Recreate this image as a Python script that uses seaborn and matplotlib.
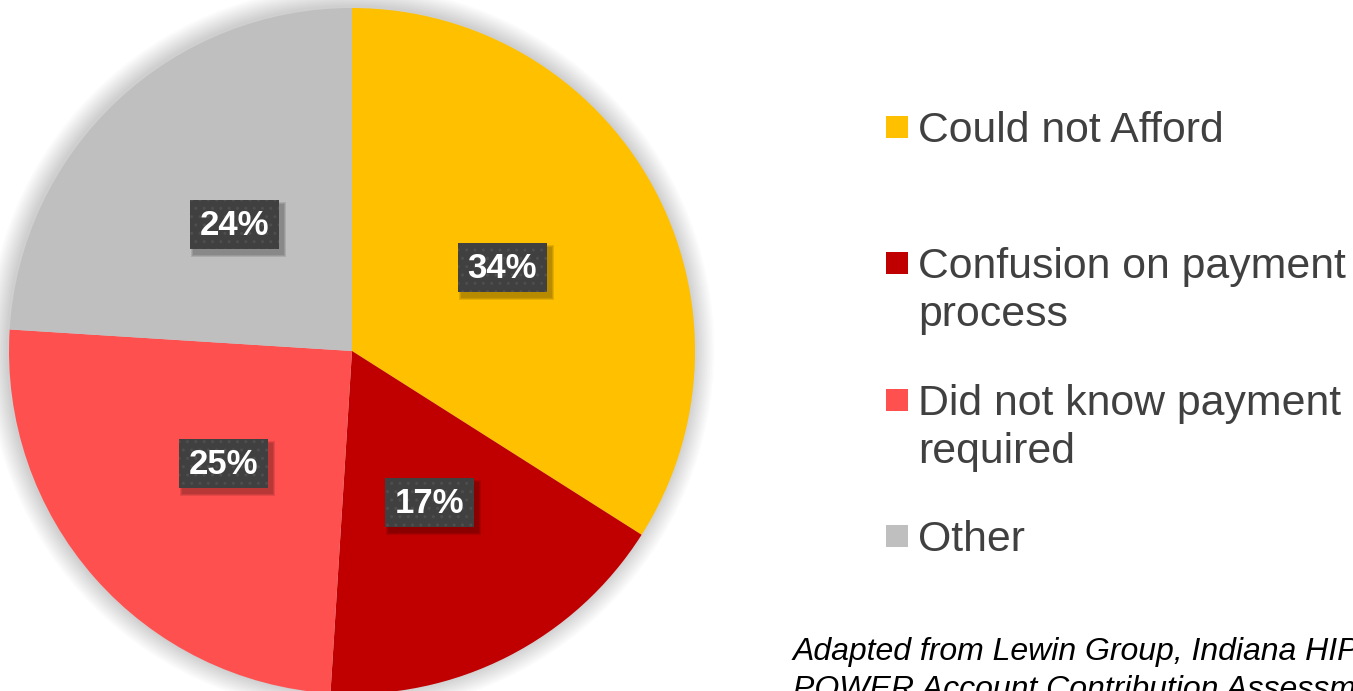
import matplotlib
matplotlib.use("Agg")
import matplotlib.pyplot as plt
from matplotlib.patches import Rectangle, Circle
import seaborn as sns

# ---- data ----
categories = ["Could not Afford", "Confusion on payment\nprocess",
              "Did not know payment\nrequired", "Other"]
values = [34, 17, 25, 24]
colors = ["#FFC000", "#C00000", "#FF5050", "#BFBFBF"]
pct_labels = ["34%", "17%", "25%", "24%"]
caption = "Adapted from Lewin Group, Indiana HIP 2.0:\nPOWER Account Contribution Assessment"

sns.set_theme(style="white")
plt.rcParams["font.family"] = ["Liberation Sans", "DejaVu Sans"]

W, H = 1353, 691
fig = plt.figure(figsize=(W / 100, H / 100), dpi=100)
fig.patch.set_facecolor("white")

# pie axes
cx, cy, R = 352, 351, 343
ax = fig.add_axes([(cx - R) / W, (H - cy - R) / H, 2 * R / W, 2 * R / H])

wedges, texts, autotexts = ax.pie(
    values, colors=colors, startangle=90, counterclock=False, radius=1,
    autopct="%1.0f%%", pctdistance=0.5,
    wedgeprops=dict(linewidth=0),
    textprops=dict(color="white", fontsize=25, fontweight="bold"),
)
ax.set_xlim(-1, 1)
ax.set_ylim(-1, 1)
ax.set_aspect("equal")
ax.axis("off")

# soft shadow glow behind the pie
for i in range(12):
    ax.add_patch(Circle((-0.004, 0.004), 1 + 0.005 * (i + 1), color="#000000",
                        alpha=0.017, lw=0, zorder=0, clip_on=False))

for w in wedges:
    w.set_zorder(2)
    w.set_clip_on(False)

px = 1 / R
bw, bh = 89 * px, 49 * px   # label box size in data units
for t, lab in zip(autotexts, pct_labels):
    t.set_text(lab)
    t.set_zorder(7)
    x, y = t.get_position()
    # soft drop shadow
    for k, a in enumerate([0.10, 0.10, 0.10]):
        g = (k + 1) * px
        ax.add_patch(Rectangle((x - bw / 2 + 4 * px - g, y - bh / 2 - 4 * px - g),
                               bw + 2 * g, bh + 2 * g, facecolor="#000000",
                               lw=0, alpha=a, zorder=4))
    ax.add_patch(Rectangle((x - bw / 2, y - bh / 2 + 0.004), bw, bh,
                           facecolor="#404040", edgecolor="#4e4e4e", lw=0,
                           hatch="..", zorder=5))

# overlay axes in pixel coordinates for legend & caption
ov = fig.add_axes([0, 0, 1, 1])
ov.set_xlim(0, W)
ov.set_ylim(H, 0)
ov.axis("off")
ov.patch.set_alpha(0)

leg_y = [127, 263, 400, 536]
sq = 22
line_px = 48
for y, c, lab in zip(leg_y, colors, categories):
    ov.add_patch(Rectangle((886, y - sq / 2), sq, sq, facecolor=c, edgecolor="none"))
    extra = lab.count("\n")
    ov.text(918, y + 15 + extra * line_px, lab, fontsize=30.8, color="#404040",
            va="baseline", ha="left", linespacing=1.25)

ov.text(793, 657 + 41, caption, fontsize=23, color="#000000", style="italic",
        va="baseline", ha="left", linespacing=1.33)

fig.savefig("out.png", dpi=100)
